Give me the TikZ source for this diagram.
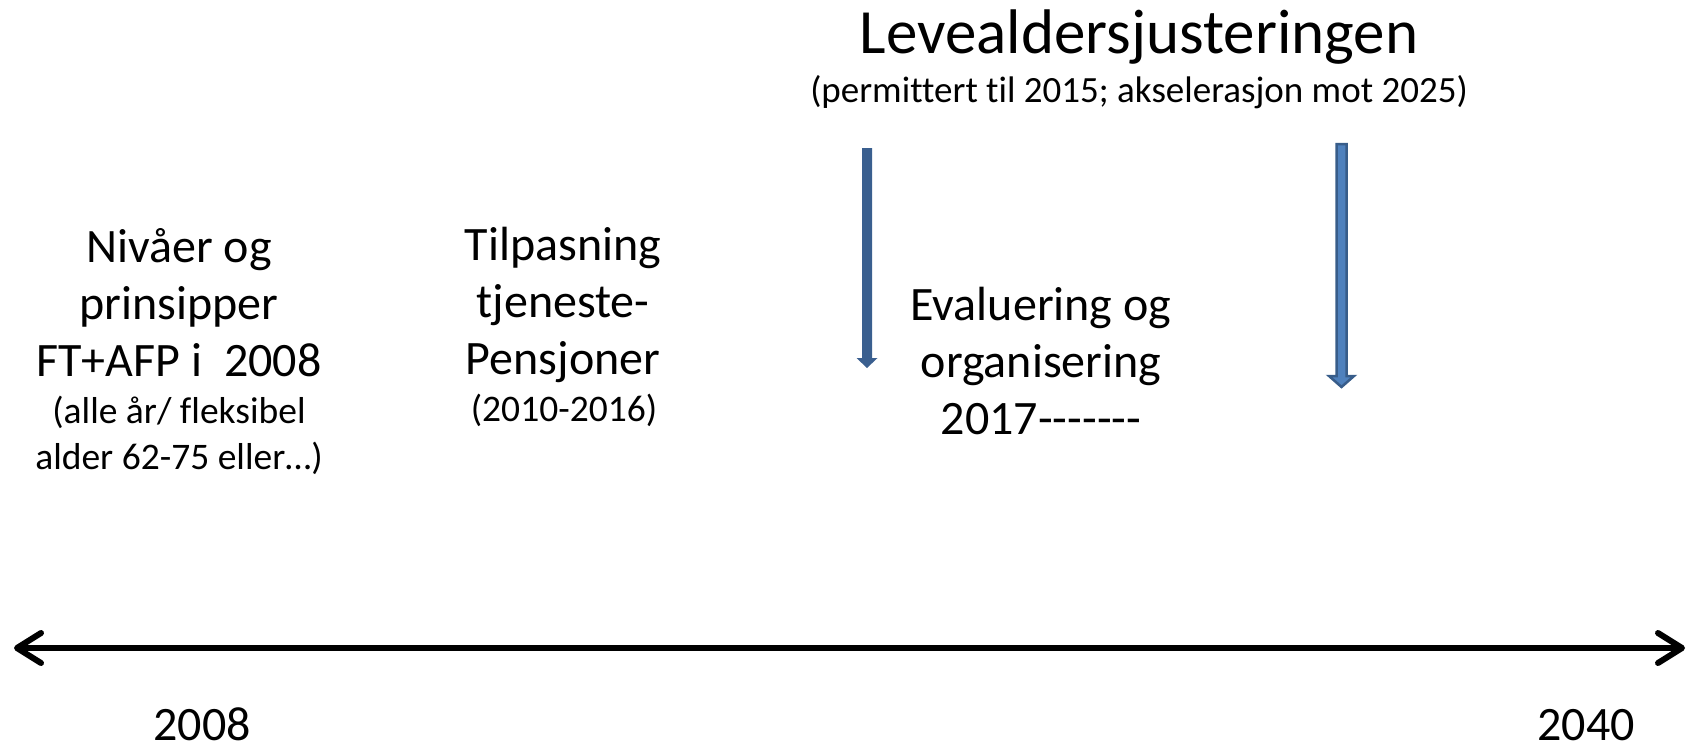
\documentclass[tikz,border=0pt]{standalone}
\usepackage{fontspec}
\setmainfont{Carlito}[Ligatures={NoCommon}]
\usetikzlibrary{arrows.meta}
\definecolor{arrowdark}{HTML}{3A5F8F}
\definecolor{arrowfill}{HTML}{4F81BD}
\definecolor{arrowline}{HTML}{385D8A}
\begin{document}
\begin{tikzpicture}[x=1pt,y=-1pt,
  bigtxt/.style={font=\fontsize{48}{57}\selectfont, align=center, anchor=base, inner sep=0pt},
  smalltxt/.style={font=\fontsize{37.5}{46}\selectfont, align=center, anchor=base, inner sep=0pt},
  titletxt/.style={font=\fontsize{63}{70}\selectfont, anchor=base, inner sep=0pt},
  subtxt/.style={font=\fontsize{37}{42}\selectfont, anchor=base, inner sep=0pt},
  timeline/.style={line width=6pt, line cap=round,
    {Straight Barb[length=24pt,width=30pt,line cap=round,line join=round]}-{Straight Barb[length=24pt,width=30pt,line cap=round,line join=round]}},
]
\useasboundingbox (0,0) rectangle (1689,752);

% texts (anchor = baseline of the last line)
\node[titletxt] (title) at (1139,54) {Levealdersjusteringen};
\node[subtxt] (subtitle) at (1139,102) {(permittert til 2015; akselerasjon mot 2025)};

\node[bigtxt] (left) at (179,376) {Nivåer og\\prinsipper\\FT+AFP i~ 2008};
\node[smalltxt] (leftsub) at (179,469) {(alle år/ fleksibel\\alder 62-75 eller…)};

\node[bigtxt] (mid) at (563,374) {Tilpasning\\tjeneste-\\Pensjoner};
\node[smalltxt] (midsub) at (564,421) {(2010-2016)};

\node[bigtxt] (right) at (1041,434) {Evaluering og\\organisering\\2017{-}{-}{-}{-}{-}{-}{-}};

\node[bigtxt] (y2008) at (202,740) {2008};
\node[bigtxt] (y2040) at (1586,740) {2040};

% timeline
\coordinate (tl) at (14,648);
\coordinate (tr) at (1685,648);
\draw[timeline] (tl) -- (tr);

% blue arrows
\fill[arrowdark] (862,148) -- (872,148) -- (872,358) -- (877.5,358) -- (867,368) -- (856.5,358) -- (862,358) -- cycle;
\filldraw[fill=arrowfill, draw=arrowline, line width=2.5pt, line join=miter]
  (1336.5,144) -- (1346.5,144) -- (1346.5,376) -- (1354,376) -- (1341.5,387) -- (1329,376) -- (1336.5,376) -- cycle;
\end{tikzpicture}
\end{document}
